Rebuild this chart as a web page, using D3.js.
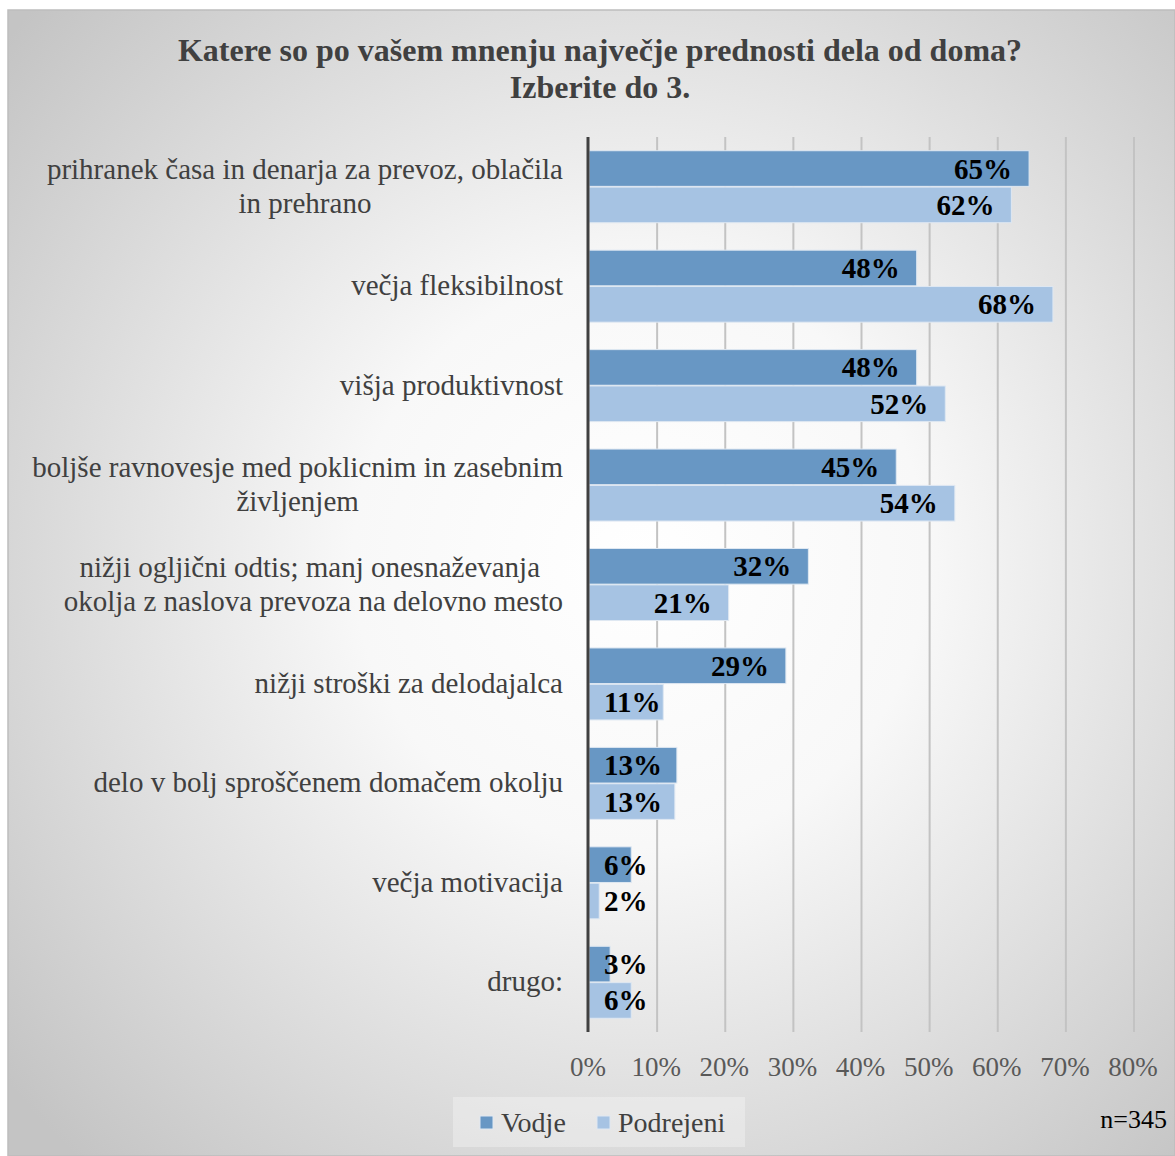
<!DOCTYPE html>
<html><head><meta charset="utf-8">
<script src="https://cdn.jsdelivr.net/npm/d3@7"></script>
<style>html,body{margin:0;padding:0;background:#fff;}svg{display:block;}</style>
</head><body>
<script>
const categories = [
  ["prihranek časa in denarja za prevoz, oblačila", "in prehrano"],
  ["večja fleksibilnost"],
  ["višja produktivnost"],
  ["boljše ravnovesje med poklicnim in zasebnim", "življenjem"],
  ["nižji ogljični odtis; manj onesnaževanja ", "okolja z naslova prevoza na delovno mesto"],
  ["nižji stroški za delodajalca"],
  ["delo v bolj sproščenem domačem okolju"],
  ["večja motivacija"],
  ["drugo:"]
];
const seriesNames = ["Vodje", "Podrejeni"];
const vodje = [64.6, 48.1, 48.1, 45.1, 32.2, 28.9, 12.9, 6.2, 3.1];
const podrejeni = [62.0, 68.1, 52.3, 53.7, 20.5, 10.9, 12.6, 1.5, 6.2];
const tickValues = [0, 10, 20, 30, 40, 50, 60, 70, 80];
const titleLines = ["Katere so po vašem mnenju največje prednosti dela od doma?", "Izberite do 3."];
const note = "n=345";
const colors = ["#6897c4", "#a6c3e3"];

const W = 1175, H = 1156;
const svg = d3.select("body").append("svg").attr("width", W).attr("height", H);
const defs = svg.append("defs");
const grad = defs.append("radialGradient").attr("id", "bg")
  .attr("gradientUnits", "userSpaceOnUse")
  .attr("cx", 640).attr("cy", 560).attr("r", 820);
grad.append("stop").attr("offset", "0").attr("stop-color", "#ffffff");
grad.append("stop").attr("offset", "0.35").attr("stop-color", "#f8f8f8");
grad.append("stop").attr("offset", "1").attr("stop-color", "#c4c4c4");

svg.append("rect").attr("x", 8).attr("y", 10).attr("width", W - 8).attr("height", H - 10)
  .attr("fill", "url(#bg)").attr("stroke", "#bdbdbd").attr("stroke-width", 1.5);

const serif = "'Liberation Serif','Times New Roman',serif";

// title
svg.append("g").selectAll("text").data(titleLines).join("text")
  .attr("x", 600).attr("y", (d, i) => 61 + i * 37)
  .attr("text-anchor", "middle").attr("font-family", serif)
  .attr("font-weight", "bold").attr("font-size", 32).attr("fill", "#404040")
  .text(d => d);

const x = d3.scaleLinear().domain([0, 80]).range([589, 1134]);
const y0 = d3.scaleBand().domain(d3.range(categories.length)).range([137, 1032]);
const y1 = d3.scaleBand().domain([0, 1]).range([13, y0.bandwidth() - 13]).padding(0.02);

// gridlines
svg.append("g").selectAll("line").data(tickValues.filter(v => v > 0)).join("line")
  .attr("x1", d => x(d)).attr("x2", d => x(d)).attr("y1", 137).attr("y2", 1032)
  .attr("stroke", "#c3c3c3").attr("stroke-width", 2);

// tick labels
svg.append("g").selectAll("text").data(tickValues).join("text")
  .attr("x", d => x(d) - 1).attr("y", 1076).attr("text-anchor", "middle")
  .attr("font-family", serif).attr("font-size", 27).attr("fill", "#595959")
  .text(d => d + "%");

// bars
const series = [vodje, podrejeni];
const bars = svg.append("g");
series.forEach((vals, s) => {
  bars.selectAll("rect.s" + s).data(vals).join("rect").attr("class", "s" + s)
    .attr("x", x(0)).attr("y", (d, i) => y0(i) + y1(s))
    .attr("width", d => x(d) - x(0)).attr("height", y1.bandwidth())
    .attr("fill", colors[s]).attr("stroke", "#dfe8f2").attr("stroke-width", 1);
});

// value labels
const lab = svg.append("g");
series.forEach((vals, s) => {
  vals.forEach((v, i) => {
    const t = lab.append("text")
      .attr("y", y0(i) + y1(s) + y1.bandwidth() / 2 + 10)
      .attr("font-family", serif).attr("font-weight", "bold").attr("font-size", 29)
      .attr("fill", "#000").text(Math.round(v) + "%");
    const w = t.node().getComputedTextLength();
    const xs = Math.max(x(v) - 17 - w, 604);
    t.attr("x", xs);
  });
});

// axis line
svg.append("line").attr("x1", 588).attr("x2", 588).attr("y1", 137).attr("y2", 1032)
  .attr("stroke", "#404040").attr("stroke-width", 3);

// category labels
const cat = svg.append("g");
categories.forEach((lines, i) => {
  const cy = y0(i) + y0.bandwidth() / 2;
  const g = cat.append("g");
  const lh = 34;
  const ts = lines.map((l, j) => g.append("text")
    .attr("y", cy + (j - (lines.length - 1) / 2) * lh + 9)
    .attr("font-family", serif).attr("font-size", 29).attr("fill", "#404040")
    .style("white-space", "pre").text(l));
  const maxW = d3.max(ts, t => t.node().getComputedTextLength());
  const center = 563 - maxW / 2;
  ts.forEach(t => t.attr("x", center).attr("text-anchor", "middle"));
});

// legend
const lg = svg.append("g");
lg.append("rect").attr("x", 453).attr("y", 1097).attr("width", 292).attr("height", 50)
  .attr("fill", "#ffffff").attr("fill-opacity", 0.3);
const legX = [480, 597];
seriesNames.forEach((n, i) => {
  lg.append("rect").attr("x", legX[i]).attr("y", 1116).attr("width", 13).attr("height", 13)
    .attr("fill", colors[i]).attr("stroke", "#dfe8f2").attr("stroke-width", 1);
  lg.append("text").attr("x", legX[i] + 21).attr("y", 1132)
    .attr("font-family", serif).attr("font-size", 28).attr("fill", "#404040").text(n);
});

svg.append("text").attr("x", 1167).attr("y", 1128).attr("text-anchor", "end")
  .attr("font-family", serif).attr("font-size", 26).attr("fill", "#000").text(note);
</script>
</body></html>
